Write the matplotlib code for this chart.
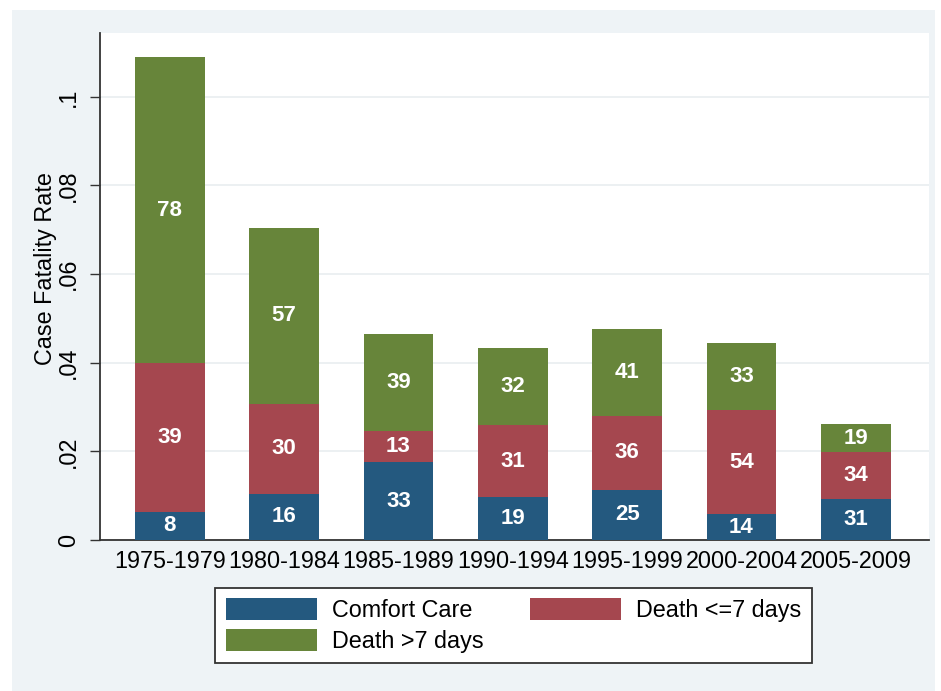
import matplotlib
matplotlib.use("Agg")
import matplotlib.pyplot as plt
from matplotlib.patches import Rectangle, Patch
import numpy as np

plt.rcParams['font.family'] = ['Liberation Sans', 'DejaVu Sans']

periods = ['1975-1979', '1980-1984', '1985-1989', '1990-1994',
           '1995-1999', '2000-2004', '2005-2009']
comfort_care = [0.0064, 0.0104, 0.0175, 0.0097, 0.0113, 0.0058, 0.0092]
death_le7 = [0.0335, 0.0203, 0.0071, 0.0162, 0.0167, 0.0235, 0.0106]
death_gt7 = [0.0691, 0.0397, 0.0218, 0.0175, 0.0195, 0.0152, 0.0064]

comfort_n = [8, 16, 33, 19, 25, 14, 31]
le7_n = [39, 30, 13, 31, 36, 54, 34]
gt7_n = [78, 57, 39, 32, 41, 33, 19]

series_names = ['Comfort Care', 'Death <=7 days', 'Death >7 days']
colors = ['#24597f', '#a5474f', '#67853a']

yticks = [0, 0.02, 0.04, 0.06, 0.08, 0.1]
ytick_labels = ['0', '.02', '.04', '.06', '.08', '.1']

W, H = 941, 691
fig = plt.figure(figsize=(W / 100, H / 100), dpi=100)
fig.patch.set_facecolor('white')
bg = Rectangle((12 / W, 0), (935 - 12) / W, (H - 10) / H,
               transform=fig.transFigure, facecolor='#eef3f6',
               edgecolor='none', zorder=-10)
fig.add_artist(bg)

ax = fig.add_axes([100 / W, (H - 540) / H, (929 - 100) / W, (540 - 33) / H])
ax.set_zorder(1)
ax.set_facecolor('white')

x = np.arange(len(periods))
width = 0.61
bottom = np.zeros(len(periods))
segments = [comfort_care, death_le7, death_gt7]
counts = [comfort_n, le7_n, gt7_n]
for vals, cnt, col, name in zip(segments, counts, colors, series_names):
    vals = np.array(vals)
    ax.bar(x, vals, width, bottom=bottom, color=col, label=name, zorder=3,
           linewidth=0)
    for xi, b, v, c in zip(x, bottom, vals, cnt):
        ax.text(xi, b + v / 2, str(c), ha='center', va='center',
                color='white', fontsize=16, fontweight='bold', zorder=4)
    bottom = bottom + vals

ax.set_xlim(-0.61, len(periods) - 1 + 0.64)
ax.set_ylim(0, 0.1144)
ax.set_xticks(x)
ax.set_xticklabels(periods, fontsize=16.8)
ax.tick_params(axis='x', length=0, pad=7)
ax.set_yticks(yticks)
ax.set_yticklabels(ytick_labels, fontsize=16.8, rotation=90, va='center')
ax.tick_params(axis='y', length=7.2, width=1.0, pad=7, color='#333333')
ax.yaxis.grid(True, color='#e9eef0', linewidth=1.2, zorder=0)
ax.set_axisbelow(True)

for s in ['top', 'right']:
    ax.spines[s].set_visible(False)
for s in ['left', 'bottom']:
    ax.spines[s].set_color('#333333')
    ax.spines[s].set_linewidth(1.3)

ax.set_ylabel('Case Fatality Rate', fontsize=16.8)
ax.yaxis.set_label_coords(-0.052, 0.536)

# legend filled row-wise: Comfort Care, Death <=7 days / Death >7 days
order = [0, 2, 1]
handles = [Patch(facecolor=colors[i], edgecolor='none') for i in order]
labels = [series_names[i] for i in order]
leg = fig.legend(handles, labels, ncol=2, loc='center',
                 bbox_to_anchor=(513.5 / W, (H - 625.5) / H),
                 fontsize=16.8, frameon=True, fancybox=False, framealpha=1,
                 handlelength=3.9, handleheight=1.05, handletextpad=0.65,
                 columnspacing=1.97, borderpad=0.45, labelspacing=0.3)
leg.set_zorder(5)
leg.get_frame().set_edgecolor('#333333')
leg.get_frame().set_linewidth(1.3)
leg.get_frame().set_facecolor('white')

fig.savefig('out.png', dpi=100, facecolor=fig.get_facecolor())
